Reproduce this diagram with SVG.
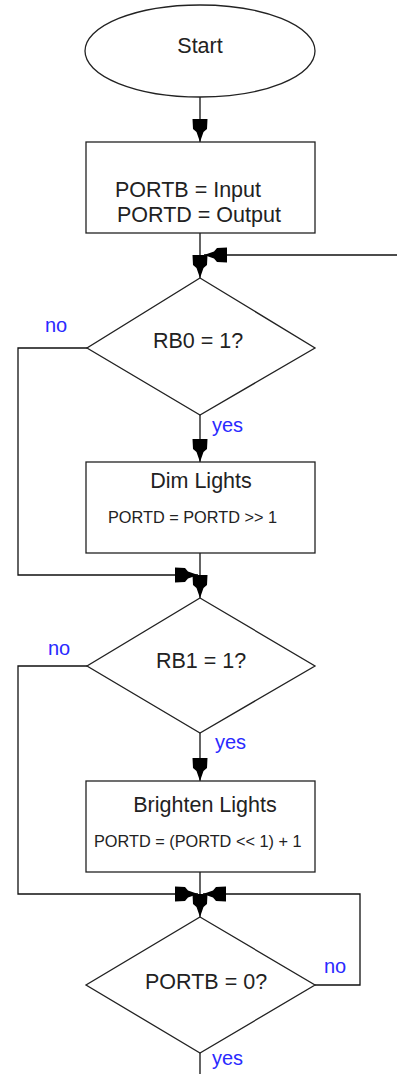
<svg xmlns="http://www.w3.org/2000/svg" width="397" height="1074" viewBox="0 0 397 1074">
<style>
.shape{fill:#fff;stroke:#222;stroke-width:1.3}
.conn{fill:none;stroke:#111;stroke-width:1.3}
.t{font-family:"Liberation Sans",Arial,sans-serif;fill:#222}
.big{font-size:21.5px}
.small{font-size:16.3px}
.lbl{font-family:"Liberation Sans",Arial,sans-serif;font-size:20px;fill:#2a2aff}
</style>
<defs>
<marker id="ah" markerUnits="userSpaceOnUse" markerWidth="26" markerHeight="18" viewBox="-25 -9 26 18" refX="0" refY="0" orient="auto">
<path d="M0,0 L-10,-3.5 L-13,-7 L-23,-7.5 L-23,7.5 L-13,7 L-10,3.5 Z" fill="#000"/>
</marker>
</defs>
<rect width="397" height="1074" fill="#fff"/>
<g id="connectors">
<path class="conn" d="M200,97 V142" marker-end="url(#ah)"/>
<path class="conn" d="M200,233 V278" marker-end="url(#ah)"/>
<path class="conn" d="M397,255 H204" marker-end="url(#ah)"/>
<path class="conn" d="M200,415 V462" marker-end="url(#ah)"/>
<path class="conn" d="M200,553 V598" marker-end="url(#ah)"/>
<path class="conn" d="M87,348 H18 V575 H198" marker-end="url(#ah)"/>
<path class="conn" d="M200,733 V781" marker-end="url(#ah)"/>
<path class="conn" d="M200,872 V917" marker-end="url(#ah)"/>
<path class="conn" d="M87,666 H18 V894 H198" marker-end="url(#ah)"/>
<path class="conn" d="M315,985 H360 V894 H203" marker-end="url(#ah)"/>
<path class="conn" d="M200,1053 V1074"/>
<text class="lbl" x="45" y="332">no</text>
<text class="lbl" x="212" y="432">yes</text>
<text class="lbl" x="48" y="655">no</text>
<text class="lbl" x="215" y="749">yes</text>
<text class="lbl" x="324" y="973">no</text>
<text class="lbl" x="212" y="1065">yes</text>
</g>
<g id="start">
<ellipse class="shape" cx="200" cy="51" rx="115" ry="46"/>
<text class="t big" x="200" y="53" text-anchor="middle">Start</text>
</g>
<g id="init">
<rect class="shape" x="86" y="142" width="229" height="91"/>
<text class="t big" x="115" y="197">PORTB = Input</text>
<text class="t big" x="117" y="222">PORTD = Output</text>
</g>
<g id="rb0">
<polygon class="shape" points="200,278 315,348 200,415 87,348"/>
<text class="t big" x="153" y="348">RB0 = 1?</text>
</g>
<g id="dim">
<rect class="shape" x="86" y="462" width="229" height="91"/>
<text class="t big" x="201" y="488" text-anchor="middle">Dim Lights</text>
<text class="t small" x="108" y="523">PORTD = PORTD &gt;&gt; 1</text>
</g>
<g id="rb1">
<polygon class="shape" points="200,598 315,666 200,733 87,666"/>
<text class="t big" x="156" y="668">RB1 = 1?</text>
</g>
<g id="brighten">
<rect class="shape" x="86" y="781" width="229" height="91"/>
<text class="t big" x="205" y="812" text-anchor="middle">Brighten Lights</text>
<text class="t small" x="94" y="847">PORTD = (PORTD &lt;&lt; 1) + 1</text>
</g>
<g id="portb0">
<polygon class="shape" points="200,917 315,985 200,1053 86,985"/>
<text class="t big" x="145" y="989">PORTB = 0?</text>
</g>
</svg>
